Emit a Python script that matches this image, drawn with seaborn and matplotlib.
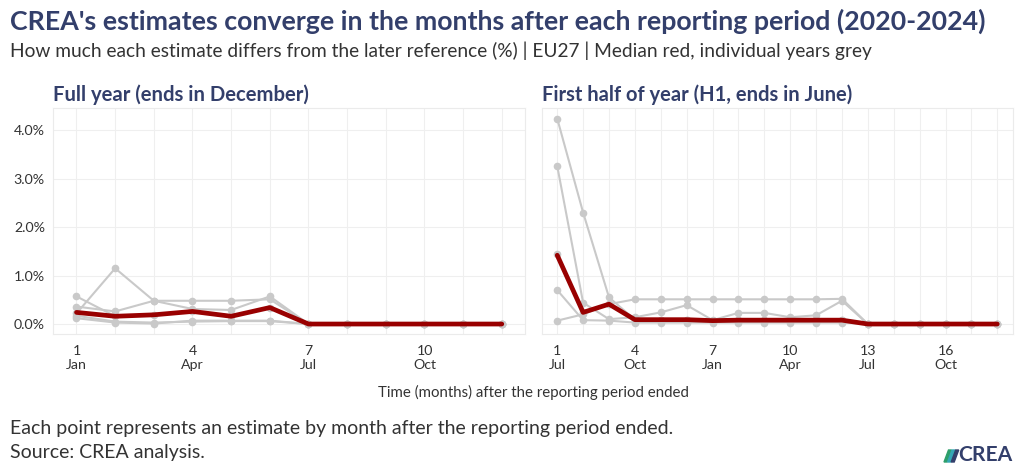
import numpy as np
import pandas as pd
import matplotlib
matplotlib.use("Agg")
import matplotlib.pyplot as plt
import seaborn as sns
from matplotlib.ticker import FuncFormatter, FixedLocator
from matplotlib.patches import Polygon

# ---------------- data (percent difference from later reference) ----------------
years = ["2020", "2021", "2022", "2023", "2024"]

fy_months = list(range(1, 13))
fy_2020 = [0.57, 0.16, 0.19, 0.26, 0.16, 0.34, 0, 0, 0, 0, 0, 0]
fy_2021 = [0.22, 1.15, 0.48, 0.48, 0.48, 0.51, 0, 0, 0, 0, 0, 0]
fy_2022 = [0.36, 0.26, 0.48, 0.31, 0.29, 0.57, 0, 0, 0, 0, 0, 0]
fy_2023 = [0.12, 0.03, 0.01, 0.07, 0.07, 0.07, 0, 0, 0, 0, 0, 0]
fy_2024 = [0.17, 0.05, 0.03, 0.05, 0.06, 0.06, 0, 0, 0, 0, 0, 0]
fy_median = [0.24, 0.16, 0.19, 0.26, 0.16, 0.34, 0, 0, 0, 0, 0, 0]

h1_months = list(range(1, 19))
h1_2020 = [4.24, 2.30, 0.55, 0.09, 0.09, 0.09, 0.07, 0.09, 0.09, 0.09, 0.09, 0.09, 0, 0, 0, 0, 0, 0]
h1_2021 = [3.26, 0.44, 0.10, 0.14, 0.24, 0.39, 0.08, 0.23, 0.23, 0.14, 0.18, 0.48, 0, 0, 0, 0, 0, 0]
h1_2022 = [0.70, 0.08, 0.07, 0.03, 0.03, 0.03, 0.03, 0.03, 0.03, 0.03, 0.03, 0.03, 0, 0, 0, 0, 0, 0]
h1_2023 = [0.07, 0.20, 0.41, 0.51, 0.51, 0.51, 0.51, 0.51, 0.51, 0.51, 0.51, 0.52, 0, 0, 0, 0, 0, 0]
h1_2024 = [1.45, 0.24, 0.41, 0.08, 0.08, 0.08, 0.06, 0.08, 0.08, 0.08, 0.08, 0.08, 0, 0, 0, 0, 0, 0]
h1_median = [1.42, 0.24, 0.41, 0.09, 0.09, 0.09, 0.07, 0.08, 0.08, 0.08, 0.08, 0.08, 0, 0, 0, 0, 0, 0]

fy_tick_pos = [1, 4, 7, 10]
fy_tick_labels = ["1\nJan", "4\nApr", "7\nJul", "10\nOct"]
h1_tick_pos = [1, 4, 7, 10, 13, 16]
h1_tick_labels = ["1\nJul", "4\nOct", "7\nJan", "10\nApr", "13\nJul", "16\nOct"]
y_ticks = [0, 1, 2, 3, 4]

title = "CREA's estimates converge in the months after each reporting period (2020-2024)"
subtitle = "How much each estimate differs from the later reference (%) | EU27 | Median red, individual years grey"
facet_titles = ["Full year (ends in December)", "First half of year (H1, ends in June)"]
xlabel = "Time (months) after the reporting period ended"
caption = ["Each point represents an estimate by month after the reporting period ended.",
           "Source: CREA analysis."]

# ---------------- frames ----------------
def long_frame(months, series):
    rows = []
    for yr, vals in zip(years, series):
        for m, v in zip(months, vals):
            rows.append({"year": yr, "month": m, "value": v})
    return pd.DataFrame(rows)

fy_df = long_frame(fy_months, [fy_2020, fy_2021, fy_2022, fy_2023, fy_2024])
h1_df = long_frame(h1_months, [h1_2020, h1_2021, h1_2022, h1_2023, h1_2024])
fy_med_df = pd.DataFrame({"month": fy_months, "value": fy_median})
h1_med_df = pd.DataFrame({"month": h1_months, "value": h1_median})

# ---------------- style ----------------
sns.set_theme(style="white")
FONT = "Lato"
plt.rcParams["font.family"] = [FONT, "DejaVu Sans"]

NAVY = "#333f6b"
RED = "#990000"
GREY = "#c9c9c9"
GRID = "#efefef"
TXT = "#333333"

W, H = 1024, 475
fig = plt.figure(figsize=(W / 100, H / 100), dpi=100)

def px_rect(x0, y0, x1, y1):
    return [x0 / W, 1 - y1 / H, (x1 - x0) / W, (y1 - y0) / H]

ax1 = fig.add_axes(px_rect(53.3, 108.3, 525.0, 334.3))
ax2 = fig.add_axes(px_rect(541.7, 108.3, 1012.8, 334.3))

panels = [
    (ax1, fy_df, fy_med_df, fy_months, fy_tick_pos, fy_tick_labels),
    (ax2, h1_df, h1_med_df, h1_months, h1_tick_pos, h1_tick_labels),
]

for i, (ax, df, med, months, tpos, tlab) in enumerate(panels):
    sns.lineplot(data=df, x="month", y="value", units="year", estimator=None,
                 color=GREY, lw=1.5, marker="o", markersize=5.5,
                 markeredgewidth=0, ax=ax, zorder=2)
    sns.lineplot(data=med, x="month", y="value", color=RED, lw=3.4,
                 ax=ax, zorder=3, solid_joinstyle="round")
    ax.set_xlim(months[0] - 0.6, months[-1] + 0.6)
    ax.set_ylim(-0.212, 4.452)
    ax.xaxis.set_major_locator(FixedLocator(months))
    ax.set_xticklabels([tlab[tpos.index(m)] if m in tpos else "" for m in months])
    ax.yaxis.set_major_locator(FixedLocator(y_ticks))
    ax.yaxis.set_major_formatter(FuncFormatter(lambda v, p: f"{v:.1f}%"))
    ax.grid(True, color=GRID, lw=0.8)
    ax.set_axisbelow(True)
    for s in ax.spines.values():
        s.set_color("#ebebeb")
        s.set_linewidth(0.8)
    ax.tick_params(axis="both", length=0, labelsize=10.2, colors=TXT)
    ax.tick_params(axis="x", pad=8)
    ax.tick_params(axis="y", pad=6)
    for lab in ax.get_xticklabels():
        lab.set_linespacing(1.15)
    ax.set_xlabel("")
    ax.set_ylabel("")
    if ax is ax2:
        ax.tick_params(axis="y", labelleft=False)

# ---------------- texts ----------------
def ftext(x, y, s, size, target=None, **kw):
    t = fig.text(x / W, 1 - y / H, s, fontsize=size, va="baseline", **kw)
    if target is not None:
        fig.canvas.draw()
        w = t.get_window_extent().width
        t.set_fontsize(size * target / w)
    return t

ftext(10, 29.5, title, 17, target=976, color=NAVY, fontweight="bold")
ftext(10, 57.5, subtitle, 12.5, target=865, color=TXT)
ftext(53.3, 101, facet_titles[0], 13, target=255, color=NAVY, fontweight="bold")
ftext(541.7, 101, facet_titles[1], 13, target=310, color=NAVY, fontweight="bold")
ftext(533, 397, xlabel, 9.5, target=312, color=TXT, ha="center")
ftext(10, 434, caption[0], 12.5, target=666, color=TXT)
ftext(10, 458, caption[1], 12.5, color=TXT)
fig.texts[-1].set_fontsize(fig.texts[-2].get_fontsize())

# logo
ftext(958, 461, "CREA", 10.5, target=54, color=NAVY, fontweight="bold")
cols = ["#2e9f6b", "#35a7b5", NAVY]
for k, c in enumerate(cols):
    x0 = 944 + k * 3.6
    pts = [(x0, 462), (x0 + 3, 462), (x0 + 7.5, 450), (x0 + 4.5, 450)]
    fig.add_artist(Polygon([(px / W, 1 - py / H) for px, py in pts],
                           closed=True, color=c, transform=fig.transFigure))

fig.savefig("out.png", dpi=100)
